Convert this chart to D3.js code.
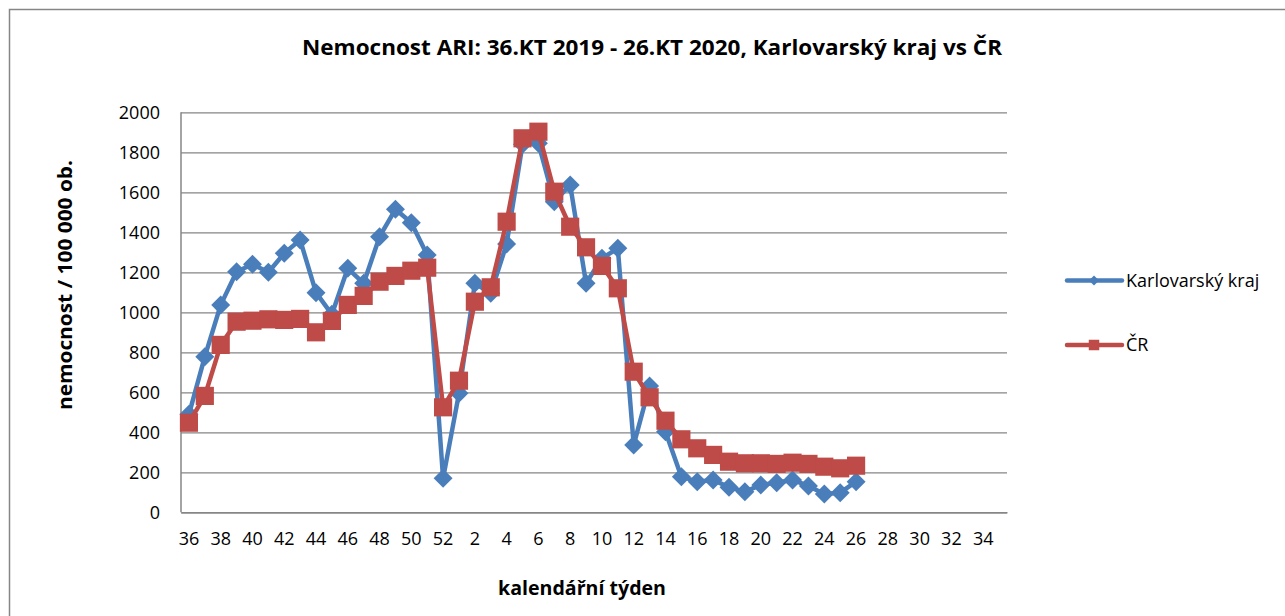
<!DOCTYPE html>
<meta charset="utf-8">
<head>
<style>
body{
	margin: 0;
	background: #fff;
}
text{
	font-family: "Open Sans", "Liberation Sans", sans-serif;
	fill: #000;
}
</style>
<script src="https://cdnjs.cloudflare.com/ajax/libs/d3/7.8.5/d3.min.js"></script>
</head>
<body>
<div id="vis-container"></div>
</body>
<script>
// calendar weeks 36/2019 .. 35/2020
var weeks = [36,37,38,39,40,41,42,43,44,45,46,47,48,49,50,51,52,
	1,2,3,4,5,6,7,8,9,10,11,12,13,14,15,16,17,18,19,20,21,22,23,24,25,26,27,28,29,30,31,32,33,34,35]

var tickWeeks = [36,38,40,42,44,46,48,50,52,2,4,6,8,10,12,14,16,18,20,22,24,26,28,30,32,34]

var yTicks = [0,200,400,600,800,1000,1200,1400,1600,1800,2000]

// values per 100 000 inhabitants, weeks 36 .. 26
var karlovarsky = [490,778,1037,1203,1240,1200,1295,1362,1098,990,1220,1145,1378,1515,1448,1287,170,
	595,1145,1095,1342,1840,1845,1553,1637,1145,1270,1320,337,632,403,178,153,162,125,103,137,148,162,132,92,98,153]

var cr = [448,582,837,953,958,965,962,967,900,957,1037,1082,1153,1182,1208,1223,525,
	658,1053,1125,1453,1870,1903,1603,1428,1325,1232,1120,703,575,458,365,320,287,253,245,245,242,248,242,228,220,233]

var seriesNames = ['Karlovarský kraj', 'ČR']
var colors = ['#4a7ebb', '#be4b48']

var W = 1285, H = 616
var margin = {top: 112.3, left: 181, right: 278, bottom: 103.7},
	width = W - margin.left - margin.right,
	height = H - margin.top - margin.bottom

var x = d3.scaleBand().domain(weeks).range([0, width]).padding(0)
var y = d3.scaleLinear().domain([0, 2000]).range([height, 0])

var svg = d3.select('#vis-container').append('svg')
	.attr('width', W)
	.attr('height', H)

// outer chart frame
svg.append('rect')
	.attr('x', 9.5).attr('y', 9.5)
	.attr('width', W + 20).attr('height', H + 20)
	.attr('fill', 'none')
	.attr('stroke', '#868686')
	.attr('stroke-width', 1.5)

svg.append('text')
	.attr('x', 652).attr('y', 55)
	.attr('text-anchor', 'middle')
	.attr('font-size', 21)
	.attr('font-weight', 'bold')
	.attr('textLength', 700)
	.attr('lengthAdjust', 'spacingAndGlyphs')
	.text('Nemocnost ARI: 36.KT 2019 - 26.KT 2020, Karlovarský kraj vs ČR')

var g = svg.append('g')
	.attr('transform', 'translate(' + margin.left + ',' + margin.top + ')')

// y axis with gridlines
var yAxis = g.append('g')
	.call(d3.axisLeft(y).tickValues(yTicks).tickFormat(d3.format('d')).tickSize(-width).tickPadding(21))
yAxis.selectAll('.tick line').attr('stroke', '#868686').attr('stroke-width', 1.3)
yAxis.select('.domain').remove()
yAxis.selectAll('.tick text').attr('font-size', 18).attr('font-family', '"Open Sans", sans-serif').attr('fill', '#000')

g.append('line')
	.attr('x1', 0).attr('x2', 0).attr('y1', 0).attr('y2', height)
	.attr('stroke', '#868686').attr('stroke-width', 1.5)

// x axis
var xAxis = g.append('g')
	.attr('transform', 'translate(0,' + height + ')')
	.call(d3.axisBottom(x).tickValues(tickWeeks).tickSize(0).tickPadding(20))
xAxis.select('.domain').attr('stroke', '#868686').attr('stroke-width', 1.5)
xAxis.selectAll('.tick text').attr('font-size', 18).attr('font-family', '"Open Sans", sans-serif').attr('fill', '#000')

svg.append('text')
	.attr('x', 582).attr('y', 595)
	.attr('text-anchor', 'middle')
	.attr('font-size', 19)
	.attr('font-weight', 'bold')
	.attr('textLength', 168)
	.attr('lengthAdjust', 'spacingAndGlyphs')
	.text('kalendářní týden')

svg.append('text')
	.attr('transform', 'translate(72,285) rotate(-90)')
	.attr('text-anchor', 'middle')
	.attr('font-size', 19)
	.attr('font-weight', 'bold')
	.attr('textLength', 250)
	.attr('lengthAdjust', 'spacingAndGlyphs')
	.text('nemocnost / 100 000 ob.')

var cx = function(i){ return x(weeks[i]) + x.bandwidth() / 2 }

var line = d3.line()
	.x(function(d, i){ return cx(i) })
	.y(function(d){ return y(d) })

var diamond = d3.symbol().type(d3.symbolSquare).size(180)
var square = d3.symbol().type(d3.symbolSquare).size(330)

var allSeries = [karlovarsky, cr]
var shapes = [diamond, square]
var rotations = [45, 0]

allSeries.forEach(function(vals, s){
	g.append('path')
		.datum(vals)
		.attr('fill', 'none')
		.attr('stroke', colors[s])
		.attr('stroke-width', 4.5)
		.attr('stroke-linejoin', 'round')
		.attr('d', line)

	g.selectAll('.marker' + s)
		.data(vals)
		.enter().append('path')
		.attr('class', 'marker' + s)
		.attr('d', shapes[s])
		.attr('fill', colors[s])
		.attr('transform', function(d, i){
			return 'translate(' + cx(i) + ',' + y(d) + ') rotate(' + rotations[s] + ')'
		})
})

// legend
var legendY = [280.5, 345]
var legendShapes = [d3.symbol().type(d3.symbolSquare).size(50), d3.symbol().type(d3.symbolSquare).size(110)]
seriesNames.forEach(function(name, s){
	var lg = svg.append('g').attr('transform', 'translate(0,' + legendY[s] + ')')
	lg.append('line')
		.attr('x1', 1067).attr('x2', 1122)
		.attr('stroke', colors[s]).attr('stroke-width', 4.5).attr('stroke-linecap', 'round')
	lg.append('path')
		.attr('d', legendShapes[s])
		.attr('fill', colors[s])
		.attr('transform', 'translate(1094,0) rotate(' + rotations[s] + ')')
	lg.append('text')
		.attr('x', 1126).attr('y', 0).attr('dy', '0.35em')
		.attr('font-size', 18)
		.text(name)
})
</script>
</html>
